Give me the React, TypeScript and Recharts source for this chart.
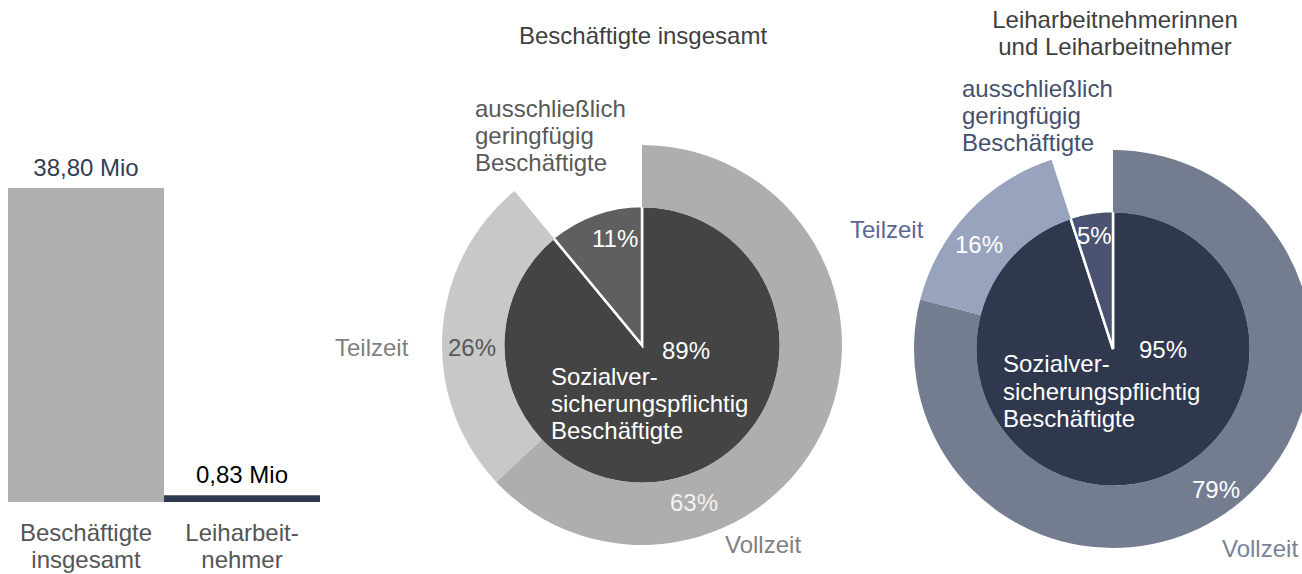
import React from 'react';
import { BarChart, Bar, XAxis, YAxis, Cell, LabelList, PieChart, Pie } from 'recharts';

// bar: total employees vs temp workers (Mio)
const BAR_CATEGORIES = ['Beschäftigte\ninsgesamt', 'Leiharbeit-\nnehmer'];
const BAR_VALUES = [38.8, 0.83];

// donut 1: Beschäftigte insgesamt
const TOTAL_INNER = [89, 11]; // sozialversicherungspflichtig, geringfügig
const TOTAL_OUTER = [63, 26, 11]; // Vollzeit, Teilzeit, (gap)

// donut 2: Leiharbeitnehmer
const LEIH_INNER = [95, 5];
const LEIH_OUTER = [79, 16, 5];

const FONT = '"Liberation Sans", Arial, Helvetica, sans-serif';
const FS = 24;
const W = 1302;
const H = 574;

const BAR_COLORS = ['#afafaf', '#2e3850'];
const BAR_LABEL_COLORS = ['#333d55', '#000000'];

const P1 = { cx: 642, cy: 345, r: 139, R: 200 };
const P2 = { cx: 1113, cy: 349, r: 138, R: 199 };

const P1_INNER_COLORS = ['#444444', '#5f5f5f'];
const P1_OUTER_COLORS = ['#aeaeae', '#c8c8c8', 'none'];
const P2_INNER_COLORS = ['#30384e', '#4a5472'];
const P2_OUTER_COLORS = ['#747c90', '#98a4bd', 'none'];

// label placement offsets relative to the pie centre (left edge / baseline)
const P1_INNER_LBL = [{ dx: 20, dy: 14, c: '#ffffff' }, { dx: -50, dy: -98, c: '#ffffff' }];
const P1_OUTER_LBL = [{ dx: 28, dy: 166, c: '#f2f2f2' }, { dx: -194, dy: 11, c: '#595959' }, null];
const P2_INNER_LBL = [{ dx: 26, dy: 9, c: '#ffffff' }, { dx: -36, dy: -105, c: '#ffffff' }];
const P2_OUTER_LBL = [{ dx: 79, dy: 149, c: '#ffffff' }, { dx: -158, dy: -96, c: '#ffffff' }, null];

const toRows = (vals: number[]) => vals.map((v, i) => ({ name: `s${i}`, value: v }));

function pctLabel(center: { cx: number; cy: number }, pos: any[]) {
  return (p: any) => {
    const l = pos[p.index];
    if (!l) return null;
    return (
      <text x={center.cx + l.dx} y={center.cy + l.dy} fill={l.c} fontSize={FS} fontFamily={FONT} textAnchor="start">
        {`${p.value}%`}
      </text>
    );
  };
}

function BarTick({ x, y, payload }: any) {
  const lines = String(payload.value).split('\n');
  return (
    <text x={x} y={y} textAnchor="middle" fill="#555555" fontSize={FS} fontFamily={FONT}>
      {lines.map((ln, i) => (
        <tspan key={i} x={x} y={y + 39 + i * 27}>{ln}</tspan>
      ))}
    </text>
  );
}

function BarValueLabel({ x, y, width, value, index }: any) {
  return (
    <text
      x={x + width / 2}
      y={y - 12}
      textAnchor="middle"
      fill={BAR_LABEL_COLORS[index] ?? '#000'}
      fontSize={FS}
      fontFamily={FONT}
    >
      {`${Number(value).toFixed(2).replace('.', ',')} Mio`}
    </text>
  );
}

function Txt({ x, y, c, anchor = 'start', children }: any) {
  return (
    <text x={x} y={y} fill={c} fontSize={FS} fontFamily={FONT} textAnchor={anchor}>
      {children}
    </text>
  );
}

export default function App() {
  const barData = BAR_CATEGORIES.map((c, i) => ({ name: c, value: BAR_VALUES[i] }));
  const abs: React.CSSProperties = { position: 'absolute', left: 0, top: 0 };

  return (
    <div style={{ position: 'absolute', left: 0, top: 0, width: W, height: H, overflow: 'hidden', background: '#fff' }}>
      <div style={abs}>
        <BarChart width={330} height={H} data={barData} margin={{ top: 188, right: 10, bottom: 0, left: 8 }} barCategoryGap={0}>
          <XAxis dataKey="name" axisLine={false} tickLine={false} tickSize={0} tickMargin={0} height={72} interval={0} tick={<BarTick />} />
          <YAxis hide domain={[0, 'dataMax']} />
          <Bar dataKey="value" isAnimationActive={false}>
            {barData.map((_, i) => (
              <Cell key={i} fill={BAR_COLORS[i]} />
            ))}
            <LabelList dataKey="value" content={<BarValueLabel />} />
          </Bar>
        </BarChart>
      </div>

      <div style={abs}>
        <PieChart width={W} height={H} margin={{ top: 0, right: 0, bottom: 0, left: 0 }}>
          <Pie
            data={toRows(TOTAL_INNER)} dataKey="value" cx={P1.cx} cy={P1.cy} innerRadius={0} outerRadius={P1.r}
            startAngle={90} endAngle={-270} stroke="#ffffff" strokeWidth={2.5}
            label={pctLabel(P1, P1_INNER_LBL)} labelLine={false} isAnimationActive={false}
          >
            {TOTAL_INNER.map((_, i) => <Cell key={i} fill={P1_INNER_COLORS[i]} />)}
          </Pie>
          <Pie
            data={toRows(TOTAL_OUTER)} dataKey="value" cx={P1.cx} cy={P1.cy} innerRadius={P1.r - 1.5} outerRadius={P1.R}
            startAngle={90} endAngle={-270} stroke="none"
            label={pctLabel(P1, P1_OUTER_LBL)} labelLine={false} isAnimationActive={false}
          >
            {TOTAL_OUTER.map((_, i) => <Cell key={i} fill={P1_OUTER_COLORS[i]} stroke="none" />)}
          </Pie>
          <Pie
            data={toRows(LEIH_INNER)} dataKey="value" cx={P2.cx} cy={P2.cy} innerRadius={0} outerRadius={P2.r}
            startAngle={90} endAngle={-270} stroke="#ffffff" strokeWidth={2.5}
            label={pctLabel(P2, P2_INNER_LBL)} labelLine={false} isAnimationActive={false}
          >
            {LEIH_INNER.map((_, i) => <Cell key={i} fill={P2_INNER_COLORS[i]} />)}
          </Pie>
          <Pie
            data={toRows(LEIH_OUTER)} dataKey="value" cx={P2.cx} cy={P2.cy} innerRadius={P2.r - 1.5} outerRadius={P2.R}
            startAngle={90} endAngle={-270} stroke="none"
            label={pctLabel(P2, P2_OUTER_LBL)} labelLine={false} isAnimationActive={false}
          >
            {LEIH_OUTER.map((_, i) => <Cell key={i} fill={P2_OUTER_COLORS[i]} stroke="none" />)}
          </Pie>
        </PieChart>
      </div>

      <svg width={W} height={H} style={{ ...abs, pointerEvents: 'none' }}>
        {/* titles */}
        <Txt x={643} y={44} c="#404040" anchor="middle">Beschäftigte insgesamt</Txt>
        <Txt x={1115} y={28} c="#404040" anchor="middle">Leiharbeitnehmerinnen</Txt>
        <Txt x={1115} y={55} c="#404040" anchor="middle">und Leiharbeitnehmer</Txt>

        {/* donut 1 */}
        <Txt x={475} y={117} c="#595959">ausschließlich</Txt>
        <Txt x={475} y={144} c="#595959">geringfügig</Txt>
        <Txt x={475} y={171} c="#595959">Beschäftigte</Txt>
        <Txt x={335} y={356} c="#808080">Teilzeit</Txt>
        <Txt x={725} y={553} c="#808080">Vollzeit</Txt>
        <Txt x={551} y={385} c="#ffffff">Sozialver-</Txt>
        <Txt x={551} y={412} c="#ffffff">sicherungspflichtig</Txt>
        <Txt x={551} y={439} c="#ffffff">Beschäftigte</Txt>

        {/* donut 2 */}
        <Txt x={962} y={97} c="#44506e">ausschließlich</Txt>
        <Txt x={962} y={124} c="#44506e">geringfügig</Txt>
        <Txt x={962} y={151} c="#44506e">Beschäftigte</Txt>
        <Txt x={850} y={238} c="#5a6794">Teilzeit</Txt>
        <Txt x={1222} y={557} c="#7a8296">Vollzeit</Txt>
        <Txt x={1003} y={372} c="#ffffff">Sozialver-</Txt>
        <Txt x={1003} y={400} c="#ffffff">sicherungspflichtig</Txt>
        <Txt x={1003} y={427} c="#ffffff">Beschäftigte</Txt>
      </svg>
    </div>
  );
}
